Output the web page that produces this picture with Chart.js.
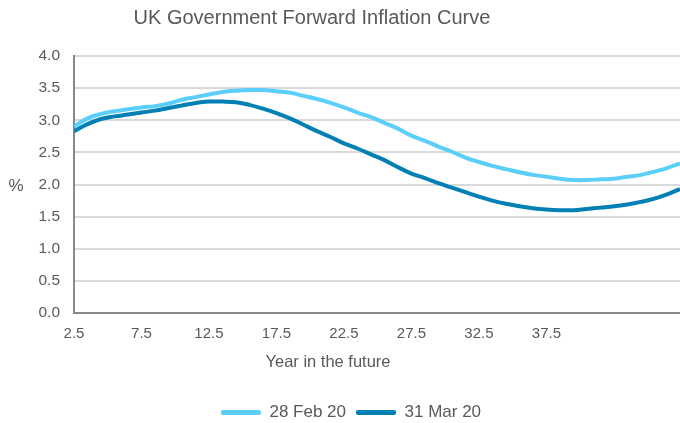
<!DOCTYPE html>
<html>
<head>
<meta charset="utf-8">
<script src="https://cdn.jsdelivr.net/npm/chart.js@4.4.1/dist/chart.umd.min.js"></script>
<style>
  body { margin: 0; background: #fff; }
</style>
</head>
<body>
<canvas id="myChart" width="680" height="423"></canvas>
<script>
// data (years ahead -> forward inflation %)
const years = [2.5, 3.5, 4.5, 5.5, 6.5, 7.5, 8.5, 9.5, 10.5, 11.5, 12.5, 13.5, 14.5, 15.5, 16.5,
    17.5, 18.5, 19.5, 20.5, 21.5, 22.5, 23.5, 24.5, 25.5, 26.5, 27.5, 28.5, 29.5, 30.5, 31.5,
    32.5, 33.5, 34.5, 35.5, 36.5, 37.5, 38.5, 39.5, 40.5, 41.5, 42.5, 43.5, 44.5, 45.5, 46.5, 47.4];
const feb20 = [2.90, 3.03, 3.10, 3.14, 3.17, 3.20, 3.22, 3.26, 3.32, 3.36, 3.40, 3.44, 3.46, 3.47, 3.47,
    3.45, 3.43, 3.38, 3.33, 3.27, 3.20, 3.12, 3.05, 2.96, 2.87, 2.76, 2.68, 2.59, 2.51, 2.42,
    2.35, 2.29, 2.24, 2.19, 2.15, 2.12, 2.09, 2.07, 2.07, 2.08, 2.09, 2.12, 2.15, 2.20, 2.26, 2.33];
const mar20 = [2.83, 2.94, 3.02, 3.06, 3.09, 3.12, 3.15, 3.19, 3.23, 3.27, 3.29, 3.29, 3.28, 3.24, 3.18,
    3.11, 3.03, 2.93, 2.83, 2.74, 2.64, 2.56, 2.47, 2.38, 2.27, 2.17, 2.10, 2.02, 1.95, 1.88,
    1.81, 1.75, 1.70, 1.66, 1.63, 1.61, 1.60, 1.60, 1.62, 1.64, 1.66, 1.69, 1.73, 1.78, 1.85, 1.93];
const seriesNames = ["28 Feb 20", "31 Mar 20"];
const xTicks = [2.5, 7.5, 12.5, 17.5, 22.5, 27.5, 32.5, 37.5];

const chartTitle = "UK Government Forward Inflation Curve";
const xTitle = "Year in the future";
const yTitle = "%";

const FONT = '"Liberation Sans", Arial, sans-serif';
const GREY = "#595959";

function toPoints(vals) {
    return vals.map(function (v, i) { return { x: years[i], y: v }; });
}

// titles sit off-centre in the original, so draw them by hand
const extraText = {
    id: "extraText",
    afterDraw(chart) {
        const ctx = chart.ctx;
        ctx.save();
        ctx.fillStyle = GREY;
        ctx.textAlign = "center";
        ctx.textBaseline = "middle";
        ctx.font = "20px " + FONT;
        ctx.fillText(chartTitle, 312, 18);
        ctx.font = "16.5px " + FONT;
        ctx.fillText(xTitle, 328, 362);
        ctx.font = "17px " + FONT;
        ctx.fillText(yTitle, 16, 186);
        ctx.restore();
    }
};

new Chart("myChart", {
    type: "line",
    data: {
        datasets: [{
            label: seriesNames[0],
            data: toPoints(feb20),
            borderColor: "#5BCEFA",
            backgroundColor: "#5BCEFA",
            borderWidth: 4,
            pointRadius: 0,
            tension: 0.4,
            fill: false
        }, {
            label: seriesNames[1],
            data: toPoints(mar20),
            borderColor: "#0080B4",
            backgroundColor: "#0080B4",
            borderWidth: 4,
            pointRadius: 0,
            tension: 0.4,
            fill: false
        }]
    },
    options: {
        responsive: false,
        animation: false,
        layout: { padding: { top: 56, left: 22, right: 0, bottom: -8 } },
        plugins: {
            title: { display: false },
            tooltip: { enabled: false },
            legend: {
                position: "bottom",
                labels: {
                    font: { size: 17, family: FONT },
                    color: GREY,
                    boxWidth: 40,
                    boxHeight: 5,
                    padding: 10,
                    generateLabels: function (chart) {
                        return chart.data.datasets.map(function (ds, i) {
                            return {
                                text: ds.label,
                                fillStyle: ds.borderColor,
                                strokeStyle: ds.borderColor,
                                lineWidth: 0,
                                borderRadius: 2,
                                fontColor: GREY,
                                datasetIndex: i
                            };
                        });
                    }
                }
            }
        },
        scales: {
            x: {
                type: "linear",
                min: 2.5,
                max: 47.4,
                afterBuildTicks: function (scale) {
                    scale.ticks = xTicks.map(function (v) { return { value: v }; });
                },
                afterFit: function (scale) { scale.height = 81; },
                grid: { display: false, drawTicks: false },
                border: { color: "#898989", width: 2 },
                ticks: {
                    autoSkip: false,
                    maxRotation: 0,
                    padding: 12,
                    color: GREY,
                    font: { size: 15, family: FONT },
                    callback: function (v) { return v.toFixed(1); }
                }
            },
            y: {
                min: 0,
                max: 4,
                afterFit: function (scale) { scale.width = 52; },
                grid: { color: "#d9d9d9", lineWidth: 2, drawTicks: false },
                border: { color: "#898989", width: 2 },
                ticks: {
                    stepSize: 0.5,
                    padding: 14,
                    color: GREY,
                    font: { size: 15.5, family: FONT },
                    callback: function (v) { return v.toFixed(1); }
                }
            }
        }
    },
    plugins: [extraText]
});
</script>
</body>
</html>
